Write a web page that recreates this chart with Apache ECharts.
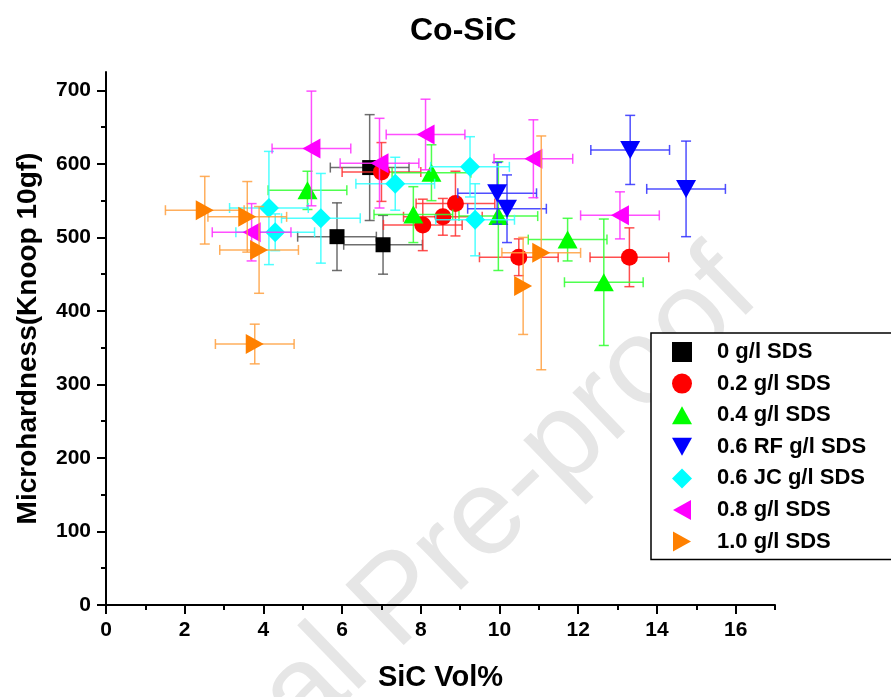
<!DOCTYPE html>
<html>
<head>
<meta charset="utf-8">
<script src="https://cdn.jsdelivr.net/npm/echarts@6/dist/echarts.min.js"></script>
<style>
html,body{margin:0;padding:0;background:#fff;}
#c{width:891px;height:697px;}
</style>
</head>
<body>
<div id="c"></div>
<script>
// ---- data ----
const seriesNames = ['0 g/l SDS','0.2 g/l SDS','0.4 g/l SDS','0.6 RF g/l SDS','0.6 JC g/l SDS','0.8 g/l SDS','1.0 g/l SDS'];

const x0 = [6.70, 5.87, 7.04];
const y0 = [595, 501, 490];
const xe0 = [1.0, 1.0, 1.0];
const ye0 = [72, 46, 40];

const x1 = [7.00, 8.05, 8.56, 8.88, 10.49, 13.30];
const y1 = [589, 517, 528, 546, 473, 473];
const xe1 = [1, 1, 1, 1, 1, 1];
const ye1 = [40, 35, 25, 44, 25, 40];

const x2 = [5.12, 8.27, 7.81, 9.97, 11.73, 12.65];
const y2 = [564, 588, 531, 529, 497, 439];
const xe2 = [1, 1, 1, 1, 1, 1];
const ye2 = [26, 38, 38, 74, 29, 86];

const x3 = [13.32, 14.74, 9.94, 10.19];
const y3 = [619, 566, 560, 539];
const xe3 = [1, 1, 1, 1];
const ye3 = [47, 65, 42, 46];

const x4 = [4.14, 4.30, 5.46, 7.35, 9.25, 9.38];
const y4 = [540, 507, 526, 573, 596, 524];
const xe4 = [1, 1, 1, 1, 1, 1];
const ye4 = [77, 25, 61, 36, 41, 49];

const x5 = [5.22, 6.95, 8.12, 3.70, 10.86, 13.06];
const y5 = [621, 601, 640, 507, 607, 530];
const xe5 = [1, 1, 1, 1, 1, 1];
const ye5 = [78, 61, 48, 39, 53, 32];

const x6 = [2.51, 3.59, 3.89, 3.78, 11.06, 10.60];
const y6 = [537, 528, 483, 355, 479, 434];
const xe6 = [1, 1, 1, 1, 1, 0];
const ye6 = [46, 48, 59, 27, 159, 66];

const xMajorTicks = [0, 2, 4, 6, 8, 10, 12, 14, 16];
const xMinorTicks = [1, 3, 5, 7, 9, 11, 13, 15, 17];
const yMajorTicks = [0, 100, 200, 300, 400, 500, 600, 700];
const yMinorTicks = [50, 150, 250, 350, 450, 550, 650];

// ---- styling ----
const FONT = 'Liberation Sans, Arial, sans-serif';
const colors = ['#000000', '#ff0000', '#00ff00', '#0000ff', '#00ffff', '#ff00ff', '#ff8000'];
const errColors = ['#555555', '#ff3030', '#30ff30', '#3030ff', '#30ffff', '#ff30ff', '#ffa040'];
const symbols = ['rect', 'circle', 'triangle', 'triangle', 'diamond', 'triangle', 'triangle'];
const rotates = [0, 0, 0, 180, 0, 90, -90];
const sizes = [15, 17, [20, 18], [20, 18], [20, 20], [20, 18], [20, 18]];
const legendIcons = ['path://M0,0 L14,0 L14,14 L0,14 Z', 'circle', 'path://M10,0 L20,18 L0,18 Z',
  'path://M0,0 L20,0 L10,18 Z', 'diamond',
  'path://M18,0 L18,20 L0,10 Z', 'path://M0,0 L18,10 L0,20 Z'];

const groups = [
  [x0, y0, xe0, ye0], [x1, y1, xe1, ye1], [x2, y2, xe2, ye2], [x3, y3, xe3, ye3],
  [x4, y4, xe4, ye4], [x5, y5, xe5, ye5], [x6, y6, xe6, ye6]
];

function makeErrRender(color) {
  return function (params, api) {
    const x = api.value(0), y = api.value(1), xe = api.value(2), ye = api.value(3);
    const cap = 5;
    const st = { stroke: color, lineWidth: 1.5, opacity: 0.85 };
    const ch = [];
    if (ye > 0) {
      const t = api.coord([x, y + ye]), b = api.coord([x, y - ye]);
      ch.push({ type: 'line', shape: { x1: t[0], y1: t[1], x2: b[0], y2: b[1] }, style: st });
      ch.push({ type: 'line', shape: { x1: t[0] - cap, y1: t[1], x2: t[0] + cap, y2: t[1] }, style: st });
      ch.push({ type: 'line', shape: { x1: b[0] - cap, y1: b[1], x2: b[0] + cap, y2: b[1] }, style: st });
    }
    if (xe > 0) {
      const l = api.coord([x - xe, y]), r = api.coord([x + xe, y]);
      ch.push({ type: 'line', shape: { x1: l[0], y1: l[1], x2: r[0], y2: r[1] }, style: st });
      ch.push({ type: 'line', shape: { x1: l[0], y1: l[1] - cap, x2: l[0], y2: l[1] + cap }, style: st });
      ch.push({ type: 'line', shape: { x1: r[0], y1: r[1] - cap, x2: r[0], y2: r[1] + cap }, style: st });
    }
    return { type: 'group', children: ch };
  };
}

const series = [];
groups.forEach((g, i) => {
  const [xs, ys, xes, yes] = g;
  series.push({
    type: 'custom',
    name: 'err' + i,
    renderItem: makeErrRender(errColors[i]),
    data: xs.map((v, k) => [v, ys[k], xes[k], yes[k]]),
    encode: { x: 0, y: 1 },
    z: 2 + i * 2,
    silent: true
  });
  series.push({
    type: 'scatter',
    name: seriesNames[i],
    symbol: symbols[i],
    symbolRotate: rotates[i],
    symbolSize: sizes[i],
    itemStyle: { color: colors[i], opacity: 1 },
    data: xs.map((v, k) => [v, ys[k]]),
    z: 3 + i * 2
  });
});

const legendData = seriesNames.map((n, i) => ({ name: n, icon: legendIcons[i] }));

const chart = echarts.init(document.getElementById('c'), null, { renderer: 'canvas' });
chart.setOption({
  animation: false,
  backgroundColor: '#ffffff',
  title: {
    text: 'Co-SiC',
    left: 405,
    top: 10,
    textStyle: { fontFamily: FONT, fontWeight: 'bold', fontSize: 32, color: '#000' }
  },
  graphic: [{
    type: 'text',
    x: 400,
    y: 602,
    rotation: 44 * Math.PI / 180,
    z: -10,
    style: {
      text: 'Journal Pre-proof',
      fontFamily: FONT,
      fontSize: 122,
      fill: '#e6e6e6',
      align: 'center',
      verticalAlign: 'middle'
    }
  }],
  grid: { left: 106, right: 116, top: 72, bottom: 91, containLabel: false },
  legend: {
    data: legendData,
    orient: 'vertical',
    left: 651,
    top: 333,
    padding: [8, 60, 7, 21],
    itemWidth: 20,
    itemHeight: 20,
    itemGap: 9.6,
    borderColor: '#000',
    borderWidth: 1.5,
    backgroundColor: '#ffffff',
    textStyle: { fontFamily: FONT, fontWeight: 'bold', fontSize: 22, color: '#000', lineHeight: 20, padding: [0, 0, 0, 20] }
  },
  xAxis: [{
    type: 'value',
    min: 0, max: 17,
    name: 'SiC Vol%',
    nameLocation: 'middle',
    nameGap: 58,
    nameTextStyle: { fontFamily: FONT, fontWeight: 'bold', fontSize: 29, color: '#000' },
    axisLine: { show: true, lineStyle: { color: '#000', width: 2 } },
    axisTick: { show: true, customValues: xMajorTicks, length: 9, lineStyle: { color: '#000', width: 2 } },
    axisLabel: { customValues: xMajorTicks, margin: 15, fontFamily: FONT, fontWeight: 'bold', fontSize: 21, color: '#000' },
    splitLine: { show: false }
  }, {
    type: 'value',
    min: 0, max: 17,
    position: 'bottom',
    axisLine: { show: false },
    axisTick: { show: true, customValues: xMinorTicks, length: 5, lineStyle: { color: '#000', width: 2 } },
    axisLabel: { show: false },
    splitLine: { show: false }
  }],
  yAxis: [{
    type: 'value',
    min: 0, max: 725,
    name: 'Microhardness(Knoop 10gf)',
    nameLocation: 'middle',
    nameGap: 64,
    nameTextStyle: { fontFamily: FONT, fontWeight: 'bold', fontSize: 28, color: '#000' },
    axisLine: { show: true, lineStyle: { color: '#000', width: 2 } },
    axisTick: { show: true, customValues: yMajorTicks, length: 9, lineStyle: { color: '#000', width: 2 } },
    axisLabel: { customValues: yMajorTicks, margin: 15, fontFamily: FONT, fontWeight: 'bold', fontSize: 21, color: '#000' },
    splitLine: { show: false }
  }, {
    type: 'value',
    min: 0, max: 725,
    position: 'left',
    axisLine: { show: false },
    axisTick: { show: true, customValues: yMinorTicks, length: 5, lineStyle: { color: '#000', width: 2 } },
    axisLabel: { show: false },
    splitLine: { show: false }
  }],
  series: series
});
</script>
</body>
</html>
